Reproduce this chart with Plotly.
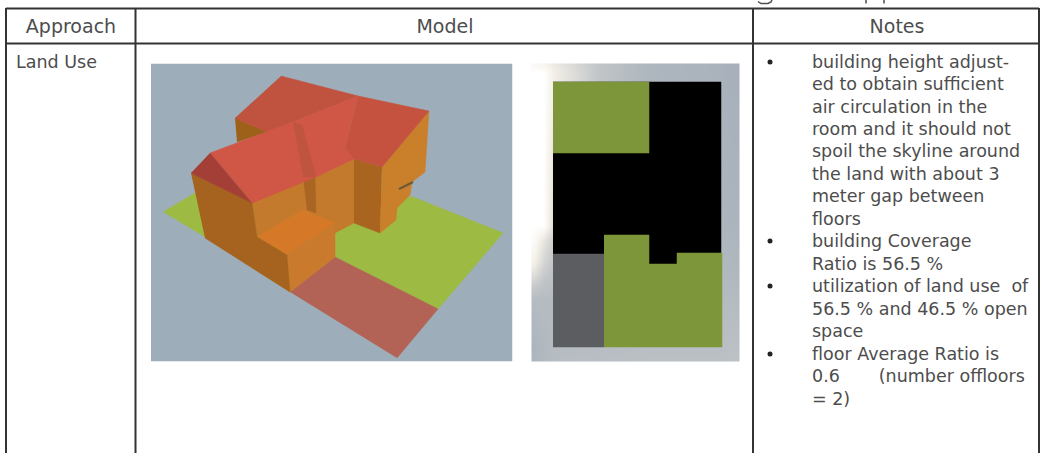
import plotly.graph_objects as go

# --- table text ---
headers = ["Approach", "Model", "Notes"]
header_x = [71, 445, 897]
row_label = "Land Use"
note_lines = [
    "building height adjust-", "ed to obtain sufficient", "air circulation in the",
    "room and it should not", "spoil the skyline around", "the land with about 3",
    "meter gap between", "floors", "building Coverage", "Ratio is 56.5 %",
    "utilization of land use  of", "56.5 % and 46.5 % open", "space",
    "floor Average Ratio is", "0.6       (number offloors", "= 2)",
]
note_y = [63.5, 85.5, 108.5, 130.5, 152.5, 175.5, 197.5, 220.5, 242.5, 265.5, 287.5, 310.5, 332.5, 355.5, 377.5, 400.5]
bullet_y = [62, 241, 286, 354]
# only the descender strokes of the heading above the table are left in the picture
cut_g_x = [758, 761, 768, 771, 772]
cut_g_y = [1.5, 3.5, 3.5, 2, 0]
cut_p_x = [866, 866, None, 884, 884]
cut_p_y = [0, 3.5, None, 0, 3.5]

# --- table rules ---
rule_h = [([6, 1039], 8.5), ([6, 1039], 43.5)]
rule_v = [6, 135.5, 753, 1039]

# --- perspective model (left picture) ---
sky = ([151, 512, 512, 151], [64, 64, 361, 361], "#9eadba")
faces = [
    ([163, 200, 413, 503, 438, 335, 290, 205], [212, 190, 197, 233, 309, 257, 292, 237], "#9dbb42"),
    ([290, 335, 438, 397], [292, 257, 309, 358], "#b26355"),
    ([235, 267, 237], [118, 132, 142], "#9e6119"),
    ([281, 358, 293, 267, 235], [76, 96, 122, 132, 118], "#c0533f"),
    ([252, 303, 316, 354, 354, 335, 335, 303, 257], [203, 177, 177, 159, 223, 233, 223, 210, 237], "#c47a2c"),
    ([303, 315, 316, 307], [177, 178, 213, 210], "#ab6522"),
    ([257, 303, 335, 287], [237, 210, 223, 255], "#d57828"),
    ([287, 335, 335, 290], [255, 223, 257, 292], "#c97a2c"),
    ([191, 252, 257, 287, 290, 205], [173, 203, 237, 255, 292, 238], "#a5631f"),
    ([354, 382, 380, 354], [159, 167, 233, 223], "#a9651f"),
    ([382, 429, 425, 412, 410, 397, 396, 380], [167, 111, 172, 182, 195, 208, 220, 233], "#ca7f2b"),
    ([210, 293, 358, 345, 354, 316, 252], [153, 122, 96, 148, 159, 177, 203], "#d05745"),
    ([293, 302, 316, 303], [122, 125, 177, 177], "#c0553f"),
    ([358, 429, 382, 354, 345], [96, 111, 167, 159, 148], "#c4523f"),
    ([210, 252, 191], [153, 203, 173], "#a33f36"),
]
smudge_x = [399, 413]
smudge_y = [189, 182]

# --- plan picture (right) ---
plan_x = [532, 533, 543, 553, 600, 650, 721, 730, 738, 739]
plan_y = [64, 65, 72, 225, 240, 262, 300, 347, 360, 361]
plan_rows = [
    [0.92, 0.92, 0.88, 0.75, 0.38, 0.12, 0.08, 0.05, 0.05, 0.05],
    [0.92, 0.92, 0.88, 0.75, 0.38, 0.12, 0.08, 0.05, 0.05, 0.05],
    [1.00, 1.00, 1.00, 0.80, 0.38, 0.12, 0.08, 0.05, 0.05, 0.05],
    [1.00, 1.00, 1.00, 0.60, 0.30, 0.15, 0.12, 0.10, 0.10, 0.10],
    [0.95, 0.95, 0.70, 0.45, 0.30, 0.15, 0.15, 0.13, 0.12, 0.12],
    [0.82, 0.82, 0.55, 0.40, 0.25, 0.18, 0.17, 0.15, 0.14, 0.14],
    [0.22, 0.22, 0.22, 0.22, 0.22, 0.22, 0.22, 0.22, 0.22, 0.22],
    [0.10, 0.10, 0.18, 0.22, 0.25, 0.28, 0.28, 0.30, 0.30, 0.30],
    [0.15, 0.15, 0.18, 0.25, 0.28, 0.30, 0.30, 0.32, 0.32, 0.32],
    [0.15, 0.15, 0.18, 0.25, 0.28, 0.30, 0.30, 0.32, 0.32, 0.32],
]
plan_blocks = [
    ([553, 721, 721, 677, 677, 649, 649, 553], [82, 82, 254, 254, 265, 265, 254, 254], "#000000"),
    ([553, 649, 649, 553], [82, 82, 153, 153], "#7c9639"),
    ([553, 604, 604, 553], [254, 254, 347, 347], "#5c5d61"),
    ([604, 649, 649, 677, 677, 722, 722, 604], [235, 235, 264, 264, 253, 253, 347, 347], "#7c9639"),
]

FONT = "DejaVu Sans"
INK = "#4d4d4d"
fig = go.Figure()


def poly(xs, ys, color):
    fig.add_trace(go.Scatter(x=xs, y=ys, mode="lines", fill="toself", fillcolor=color,
                             line=dict(color=color, width=0.5), hoverinfo="skip"))


poly(*sky)
for f in faces:
    poly(*f)
fig.add_trace(go.Scatter(x=smudge_x, y=smudge_y, mode="lines",
                         line=dict(color="#6b5a35", width=2), hoverinfo="skip"))

fig.add_trace(go.Heatmap(x=plan_x, y=plan_y, z=plan_rows, zmin=0, zmax=1, zsmooth="best",
                         showscale=False, hoverinfo="skip",
                         colorscale=[[0, "#a4aeb9"], [0.4, "#c2c6c8"], [0.8, "#f4f0e8"], [1, "#ffffff"]]))
for b in plan_blocks:
    poly(*b)

for xs, y in rule_h:
    fig.add_trace(go.Scatter(x=xs, y=[y, y], mode="lines", line=dict(color="#333333", width=2), hoverinfo="skip"))
for x in rule_v:
    fig.add_trace(go.Scatter(x=[x, x], y=[8, 453], mode="lines", line=dict(color="#333333", width=2), hoverinfo="skip"))

fig.add_trace(go.Scatter(x=header_x, y=[28, 28, 28], mode="text", text=headers, textposition="middle center",
                         textfont=dict(family=FONT, size=19, color=INK), hoverinfo="skip"))
fig.add_trace(go.Scatter(x=[16], y=[64], mode="text", text=[row_label], textposition="middle right",
                         textfont=dict(family=FONT, size=17.5, color=INK), hoverinfo="skip"))
fig.add_trace(go.Scatter(x=[812] * len(note_lines), y=note_y, mode="text", text=note_lines,
                         textposition="middle right", textfont=dict(family=FONT, size=17.5, color=INK), hoverinfo="skip"))
fig.add_trace(go.Scatter(x=[770] * len(bullet_y), y=bullet_y, mode="markers",
                         marker=dict(color="#222222", size=5), hoverinfo="skip"))
fig.add_trace(go.Scatter(x=cut_g_x, y=cut_g_y, mode="lines", line=dict(color=INK, width=1.5), hoverinfo="skip"))
fig.add_trace(go.Scatter(x=cut_p_x, y=cut_p_y, mode="lines", line=dict(color=INK, width=1.5), hoverinfo="skip"))

fig.update_layout(
    width=1040, height=453, margin=dict(l=0, r=0, t=0, b=0),
    paper_bgcolor="white", plot_bgcolor="white", showlegend=False,
    xaxis=dict(range=[0, 1040], visible=False, fixedrange=True),
    yaxis=dict(range=[453, 0], visible=False, fixedrange=True),
)
fig.write_html("out.html", config={"displayModeBar": False},
               post_script="document.body.style.margin='0';document.body.style.overflow='hidden';")
